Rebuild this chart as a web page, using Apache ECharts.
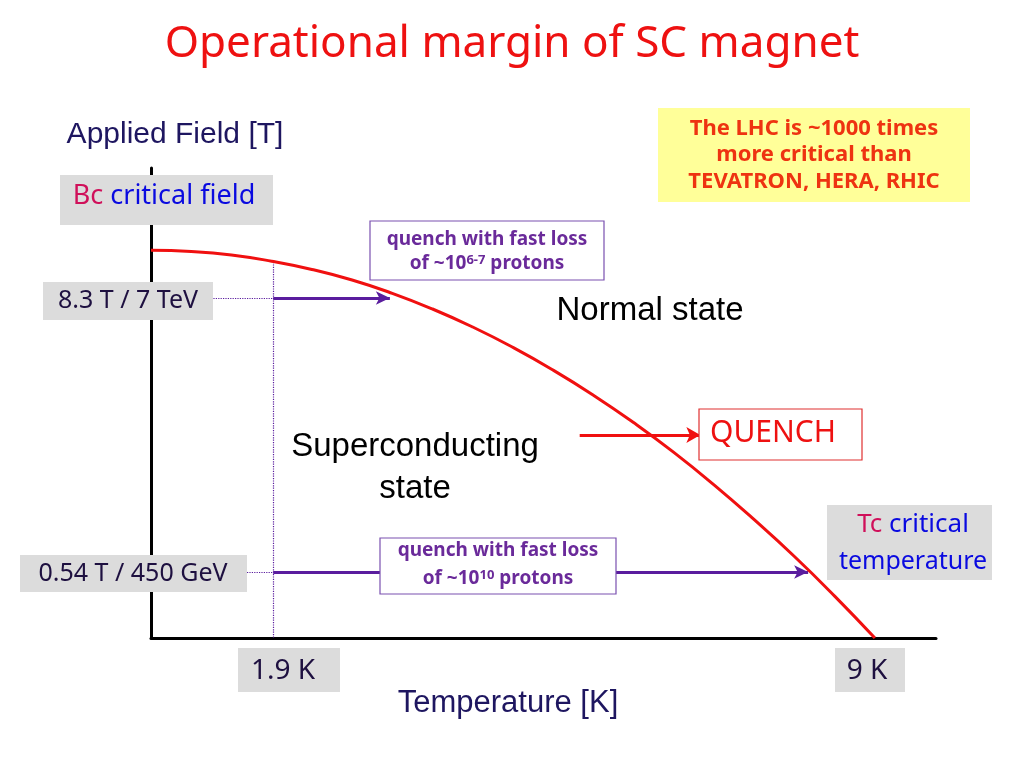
<!DOCTYPE html>
<html><head><meta charset="utf-8">
<script src="https://cdn.jsdelivr.net/npm/echarts@6/dist/echarts.min.js"></script>
<style>html,body{margin:0;padding:0;background:#fff}#c{width:1024px;height:768px}</style>
</head><body><div id="c"></div>
<script>
// Schematic critical curve: temperature (K, schematic scale) vs field
const curveT = [0, 0.5, 1, 1.5, 2, 2.5, 3, 3.5, 4, 4.5, 5, 5.5, 6, 6.5, 7, 7.5, 8, 8.5, 9];
const curveB = [9.90, 9.87, 9.78, 9.62, 9.41, 9.14, 8.80, 8.40, 7.94, 7.42, 6.84, 6.20, 5.50, 4.74, 3.91, 3.02, 2.08, 1.07, 0];
// Operating points (schematic positions)
const opTemp = 1.52;          // "1.9 K"
const critTemp = 9;           // "9 K"
const fieldHigh = 8.68;       // "8.3 T / 7 TeV"
const fieldLow = 1.685;       // "0.54 T / 450 GeV"
const highArrowEnd = 2.97;
const lowArrowEnd = 8.17;
const quenchArrow = [5.33, 6.83, 5.18];
const tempLabels = ['1.9 K', '9 K'];
const fieldLabels = ['8.3 T / 7 TeV', '0.54 T / 450 GeV'];

const chart = echarts.init(document.getElementById('c'));
const comic = '"Comic Sans MS", "Noto Sans", sans-serif';
const arial = '"Liberation Sans", Arial, sans-serif';
const purple = '#5a1d9e';

function box(x, y, w, h, fill, stroke) {
  return { type: 'rect', z: 100, shape: { x, y, width: w, height: h },
    style: { fill: fill, stroke: stroke || null, lineWidth: stroke ? 1.2 : 0 } };
}
function txt(x, y, text, font, color, extra) {
  return Object.assign({ type: 'text', z: 101, x, y,
    style: Object.assign({ text, font, fill: color, align: 'center', verticalAlign: 'middle' }, extra || {}) });
}

const curveData = curveT.map((t, i) => [t, curveB[i]]);
const supRich = (n, s) => ({ n: { font: 'bold ' + n + 'px ' + comic, fill: '#6a2a9a' },
  s: { font: 'bold ' + s + 'px ' + comic, fill: '#6a2a9a', verticalAlign: 'top', padding: [0, 0, 7, 0] } });
const twoTone = (sz) => ({ a: { fill: '#d0105a', font: sz + 'px ' + comic }, b: { fill: '#0a0ae0', font: sz + 'px ' + comic } });

chart.setOption({
  animation: false,
  grid: { left: 151, right: 88, top: 168, bottom: 130 },
  xAxis: { type: 'value', min: 0, max: 9.76, axisLine: { lineStyle: { color: '#000', width: 3 } },
    axisTick: { show: false }, axisLabel: { show: false }, splitLine: { show: false } },
  yAxis: { type: 'value', min: 0, max: 12, axisLine: { show: true, lineStyle: { color: '#000', width: 3 } },
    axisTick: { show: false }, axisLabel: { show: false }, splitLine: { show: false } },
  series: [{
    type: 'line', data: curveData, smooth: 0.5, symbol: 'none',
    lineStyle: { color: '#f01010', width: 3 }, z: 5,
    markLine: {
      silent: true, symbol: ['none', 'none'], label: { show: false },
      data: [
        [{ coord: [opTemp, 9.6], lineStyle: { type: 'dotted', color: purple, width: 1.2 } }, { coord: [opTemp, 0] }],
        [{ coord: [0, fieldHigh], lineStyle: { type: 'dotted', color: purple, width: 1.2 } }, { coord: [opTemp, fieldHigh] }],
        [{ coord: [0, fieldLow], lineStyle: { type: 'dotted', color: purple, width: 1.2 } }, { coord: [opTemp, fieldLow] }],
        [{ coord: [opTemp, fieldHigh], symbol: 'none', lineStyle: { type: 'solid', color: purple, width: 3 } },
         { coord: [highArrowEnd, fieldHigh], symbol: 'arrow', symbolSize: [10, 14] }],
        [{ coord: [opTemp, fieldLow], symbol: 'none', lineStyle: { type: 'solid', color: purple, width: 3 } },
         { coord: [lowArrowEnd, fieldLow], symbol: 'arrow', symbolSize: [10, 14] }],
        [{ coord: [quenchArrow[0], quenchArrow[2]], symbol: 'none', lineStyle: { type: 'solid', color: '#f01010', width: 3 } },
         { coord: [quenchArrow[1], quenchArrow[2]], symbol: 'arrow', symbolSize: [12, 14] }]
      ]
    }
  }],
  graphic: [
    txt(512, 44, 'Operational margin of SC magnet', '44px ' + comic, '#ee1111'),
    txt(175, 135, 'Applied Field [T]', '30px ' + arial, '#1e1660'),
    txt(508, 703, 'Temperature [K]', '31px ' + arial, '#1e1660'),
    box(60, 175, 213, 50, '#dcdcdc'),
    txt(164, 196, '{a|Bc} {b|critical field}', '27px ' + comic, '#0000ee', { rich: twoTone(27) }),
    box(43, 282, 170, 38, '#dcdcdc'),
    txt(128, 301, fieldLabels[0], '25px ' + comic, '#1e1040'),
    box(20, 555, 227, 37, '#dcdcdc'),
    txt(133, 574, fieldLabels[1], '25px ' + comic, '#1e1040'),
    box(238, 648, 102, 44, '#dcdcdc'),
    txt(283, 671, tempLabels[0], '28px ' + comic, '#1e1040'),
    box(835, 648, 70, 44, '#dcdcdc'),
    txt(867, 671, tempLabels[1], '28px ' + comic, '#1e1040'),
    box(827, 505, 165, 75, '#dcdcdc'),
    txt(913, 525, '{a|Tc} {b|critical}', '26px ' + comic, '#0a0ae0', { rich: twoTone(26) }),
    txt(913, 562, 'temperature', '25px ' + comic, '#0a0ae0'),
    box(370, 221, 234, 59, '#ffffff', '#7a50b0'),
    txt(487, 240, 'quench with fast loss', 'bold 19px ' + comic, '#6a2a9a'),
    txt(487, 264, '{n|of ~10}{s|6-7}{n| protons}', 'bold 19px ' + comic, '#6a2a9a', { rich: supRich(19, 13) }),
    box(380, 538, 236, 56, '#ffffff', '#7a50b0'),
    txt(498, 551, 'quench with fast loss', 'bold 19px ' + comic, '#6a2a9a'),
    txt(498, 579, '{n|of ~10}{s|10}{n| protons}', 'bold 19px ' + comic, '#6a2a9a', { rich: supRich(19, 13) }),
    box(699, 409, 163, 51, '#ffffff', '#e03030'),
    txt(773, 433, 'QUENCH', '30px ' + comic, '#ee1111'),
    txt(650, 311, 'Normal state', '33px ' + arial, '#000'),
    txt(415, 447, 'Superconducting', '33px ' + arial, '#000'),
    txt(415, 489, 'state', '33px ' + arial, '#000'),
    box(658, 108, 312, 94, '#ffff99'),
    txt(814, 129, 'The LHC is ~1000 times', 'bold 22px ' + comic, '#ee3311'),
    txt(814, 155, 'more critical than', 'bold 22px ' + comic, '#ee3311'),
    txt(814, 182, 'TEVATRON, HERA, RHIC', 'bold 22px ' + comic, '#ee3311')
  ]
});
</script></body></html>
